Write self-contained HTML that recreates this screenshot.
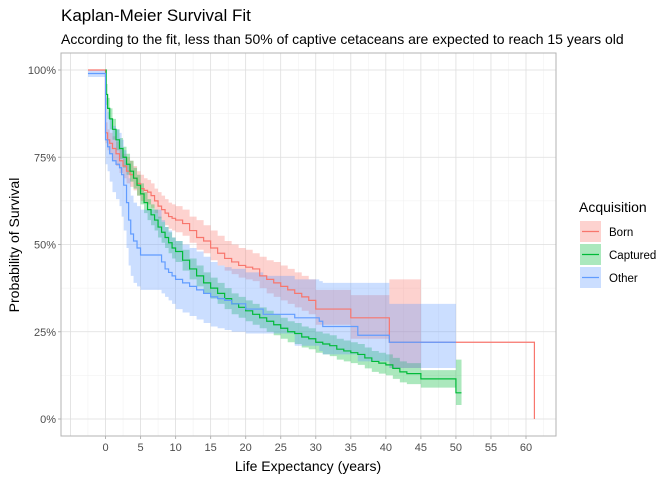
<!DOCTYPE html>
<html><head><meta charset="utf-8"><style>
body{margin:0;background:#fff;font-family:"Liberation Sans",sans-serif}
</style></head><body>
<svg id="c" width="672" height="480" xmlns="http://www.w3.org/2000/svg" font-family="Liberation Sans, sans-serif">
<text x="61" y="21" font-size="17" fill="#000">Kaplan-Meier Survival Fit</text>
<text x="61" y="44" font-size="14" fill="#000">According to the fit, less than 50% of captive cetaceans are expected to reach 15 years old</text>
<g id="grid"></g><g id="bands"></g><g id="lines"></g><g id="axes"></g>
<text x="308" y="471" font-size="14" text-anchor="middle">Life Expectancy (years)</text>
<text transform="translate(19,245) rotate(-90)" font-size="14" text-anchor="middle">Probability of Survival</text>
<g id="legend"></g>
</svg>
<script>
const xTicks=[0,5,10,15,20,25,30,35,40,45,50,55,60];
const yTicks=[0,25,50,75,100];
const seriesNames=["Born","Captured","Other"];
const bornT=[-2.5,0,0.3,0.6,1,1.5,2,2.5,3,3.5,4,4.5,5,5.5,6,6.5,7,7.5,8,8.5,9,9.5,10,11,12,13,14,15,16,17,18,19,20,21,22,23,24,25,26,27,28,29,30,35,40.5,61.2];
const bornS=[100,82,80,79,77.5,76,74,72.5,71,70,69,67.5,66,65.5,65,64,62.5,61,60,59,58,57.5,57,56,54,52,51,49,47.5,46,45,44,43.5,43,41,40,39,38,37,36,35,34,31.5,29,22,0];
const bornLo=[100,79,77,76,74,72.5,70.5,69,67.5,66.5,65.5,64,62.5,62,61.5,60.5,59,57.5,56.5,55.5,54.5,54,53.5,52.5,50.5,48.5,47.5,45.5,44,42.5,41.5,40.5,40,39.5,37.5,36,35,34,33,32,31,30,27,23,14.6,14.6];
const bornHi=[100,85,83,82,81,79.5,77.5,76,75,74,72.5,71,70,69,68.5,67.5,66,65,64,63,62,61.5,61,60,58,57,55.5,54,52.5,51,50,49,48.5,47.5,46.5,45.5,45,44,43,42,41,40,37,35.5,40,40];
const bornBandEnd=45;
const capT=[0,0.1,0.3,0.6,1,1.5,2,2.5,3,3.5,4,4.5,5,5.5,6,6.5,7,7.5,8,8.5,9,9.5,10,11,12,13,14,15,16,17,18,19,20,21,22,23,24,25,26,27,28,29,30,31,32,33,34,35,36,37,38,39,40,41,42,43,45,50,50.8];
const capS=[100,93,89,86,83,80,77.5,75,73,71,69,67,64.5,62,60,58.5,57,55,53.5,52,50.5,49,48,45.5,43,41,39,37.5,36,34.5,33,32,31,30,29,28,27,26,25,24.5,23.5,23,22,21.5,21,20,19.5,19,18.5,17.5,16.5,16,15.5,14.5,13.5,13,11.5,7.5,7.5];
const capLo=[100,90,86,83,80,77,74.5,72,70,68,66,64,61.5,59,57,55.5,54,52,50.5,49,47.5,46,45,42.5,40,38,36,34.5,33,31.5,30,29,28,27,26,25,24,23,22,21.5,20.5,20,19,18.5,18,17,16.5,16,15.5,14.5,13.5,13,12.5,11.5,10.5,10,9,4,4];
const capHi=[100,96,92,89,86,83,80.5,78,76,74,72,70,67.5,65,63,61.5,60,58,56.5,55,53.5,52,51,48.5,46,44,42,40.5,39,37.5,36,35,34,33,32,31,30,29,28,27.5,26.5,26,25,24.5,24,23,22.5,22,21.5,20.5,19.5,19,18.5,17.5,16.5,16,14,17,17];
const capBandEnd=50.8;
const othT=[-2.5,0,0.3,0.6,1,1.5,2,2.3,2.6,3,3.3,3.6,4,4.5,5,8,8.5,9,9.5,10,11,12,13,14,15,16,17,18,20,22.5,27,30.5,31,36,40.5,50];
const othS=[99,80,78,76,74,73,72,70,67,62,57,53,51,49,47,45,43,42,41,40,39,38,37,36,35,34.5,34,33,31.5,30,29,28,26.5,24,22,22];
const othLo=[98,73,71,68,65,63,61,58,54,49,44,41,39,38,37,36,35,34,33,31.5,30.5,29.5,28.5,27.5,26.5,26,25.5,25,24.5,24.5,21,19.5,18.5,16.5,14.6,14.6];
const othHi=[100,92,88,86,84,83,82,80,77,73,69,64,62,61,60,57,55,54,52,51,50,49,48,46.5,45,44,43.5,43,42,41,40,39.5,39,39,33,33];
const othBandEnd=50;
const colors=["#F8766D","#00BA38","#619CFF"];
const L=61,R=556,T=53,B=436;
const xs=v=>105.5+(526-105.5)*v/60;
const ys=v=>419-(419-70)*v/100;
const NS="http://www.w3.org/2000/svg";
function mk(tag,attrs,parent){const e=document.createElementNS(NS,tag);for(const k in attrs)e.setAttribute(k,attrs[k]);parent.appendChild(e);return e;}
const grid=document.getElementById('grid');
mk('rect',{x:L,y:T,width:R-L,height:B-T,fill:'#fff'},grid);
for(let v=-5;v<=62.5;v+=2.5){if(xs(v)<L||xs(v)>R)continue;const maj=v%5===0;
const g=mk('line',{x1:xs(v),x2:xs(v),y1:T,y2:B,stroke:maj?'#dedede':'#efefef','stroke-width':maj?0.8:0.5},grid);

}
for(let v=-12.5;v<=112.5;v+=12.5){if(ys(v)<T||ys(v)>B)continue;const maj=v%25===0;
const g=mk('line',{x1:L,x2:R,y1:ys(v),y2:ys(v),stroke:maj?'#dedede':'#efefef','stroke-width':maj?0.8:0.5},grid);

}
function stepPts(t,s){let p=[];for(let i=0;i<t.length;i++){if(i>0)p.push([xs(t[i]),ys(s[i-1])]);p.push([xs(t[i]),ys(s[i])]);}return p;}
const data=[[bornT,bornS,bornLo,bornHi,bornBandEnd],[capT,capS,capLo,capHi,capBandEnd],[othT,othS,othLo,othHi,othBandEnd]];
const bands=document.getElementById('bands'),lines=document.getElementById('lines');
data.forEach((d,k)=>{
 const [t,s,lo,hi,end]=d;
 const tb=t.map(v=>Math.min(v,end));
 const up=stepPts(tb,hi),dn=stepPts(tb,lo).reverse();
 const b=mk('path',{d:'M'+up.concat(dn).map(p=>p.join(',')).join('L')+'Z',fill:colors[k],'fill-opacity':0.33,stroke:'none'},bands);
 
 
 const l=mk('path',{d:'M'+stepPts(t,s).map(p=>p.join(',')).join('L'),fill:'none',stroke:colors[k],'stroke-width':1.2},lines);
 
 
});
const axes=document.getElementById('axes');
mk('rect',{x:L,y:T,width:R-L,height:B-T,fill:'none',stroke:'#b3b3b3','stroke-width':1},axes);
xTicks.forEach(v=>{mk('line',{x1:xs(v),x2:xs(v),y1:B,y2:B+3,stroke:'#b3b3b3'},axes);
 const t=mk('text',{x:xs(v),y:B+15,'font-size':11,fill:'#4d4d4d','text-anchor':'middle'},axes);t.textContent=v;
 
 });
yTicks.forEach(v=>{mk('line',{x1:L-3,x2:L,y1:ys(v),y2:ys(v),stroke:'#b3b3b3'},axes);
 const t=mk('text',{x:L-5,y:ys(v)+4,'font-size':11,fill:'#4d4d4d','text-anchor':'end'},axes);t.textContent=v+'%';
 
 });
const lg=document.getElementById('legend');
const lt=mk('text',{x:579,y:212,'font-size':14},lg);lt.textContent='Acquisition';


seriesNames.forEach((n,k)=>{const y=221+k*23;
 const g=mk('g',{},lg);
 
 
 mk('rect',{x:580,y:y,width:21,height:21,fill:colors[k],'fill-opacity':0.33},g);
 mk('line',{x1:582,x2:599,y1:y+10.5,y2:y+10.5,stroke:colors[k],'stroke-width':1.3},g);
 const t=mk('text',{x:609,y:y+15,'font-size':11.5,fill:'#000'},g);t.textContent=n;});
</script>
</body></html>
